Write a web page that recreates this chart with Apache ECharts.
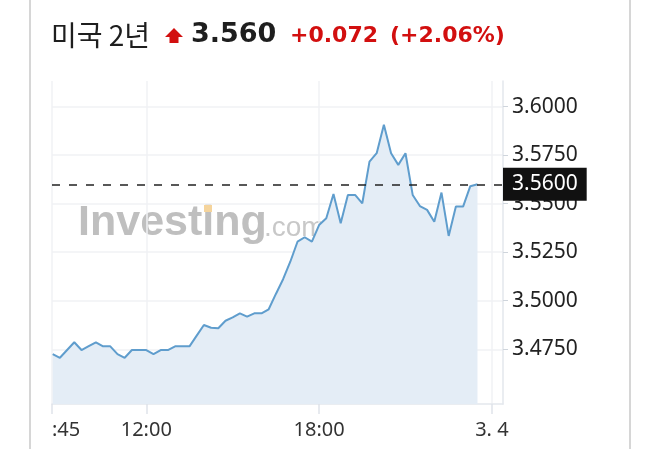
<!DOCTYPE html>
<html>
<head>
<meta charset="utf-8">
<script src="https://cdn.jsdelivr.net/npm/echarts@6/dist/echarts.min.js"></script>
<style>
    html, body { margin: 0; padding: 0; background: #fff; }
    #chart { width: 660px; height: 449px; }
</style>
</head>
<body>
<div id="chart"></div>
<script>
    // 미국 2년 국채 수익률, 15분 간격
    var times = [
        '08:45', '09:00', '09:15', '09:30', '09:45', '10:00', '10:15', '10:30', '10:45', '11:00',
        '11:15', '11:30', '11:45', '12:00', '12:15', '12:30', '12:45', '13:00', '13:15', '13:30',
        '13:45', '14:00', '14:15', '14:30', '14:45', '15:00', '15:15', '15:30', '15:45', '16:00',
        '16:15', '16:30', '16:45', '17:00', '17:15', '17:30', '17:45', '18:00', '18:15', '18:30',
        '18:45', '19:00', '19:15', '19:30', '19:45', '20:00', '20:15', '20:30', '20:45', '21:00',
        '21:15', '21:30', '21:45', '22:00', '22:15', '22:30', '22:45', '23:00', '23:15', '23:30'
    ]
    var yields = [
        3.4725, 3.4706, 3.4746, 3.4786, 3.4746, 3.4766, 3.4786, 3.4765, 3.4765, 3.4725,
        3.4706, 3.4746, 3.4746, 3.4746, 3.4725, 3.4746, 3.4746, 3.4765, 3.4765, 3.4765,
        3.4820, 3.4875, 3.4861, 3.4858, 3.4897, 3.4914, 3.4935, 3.4918, 3.4935, 3.4935,
        3.4956, 3.5035, 3.5111, 3.5201, 3.5304, 3.5327, 3.5304, 3.5390, 3.5425, 3.5550,
        3.5399, 3.5545, 3.5545, 3.5502, 3.5717, 3.5760, 3.5906, 3.5760, 3.5700, 3.5760,
        3.5545, 3.5488, 3.5468, 3.5407, 3.5557, 3.5334, 3.5485, 3.5485, 3.5590, 3.5600
    ]
    var yTicks = [3.475, 3.5, 3.525, 3.55, 3.575, 3.6]
    var xTickHours = [8.726, 12, 18, 24]
    var xTickLabels = [':45', '12:00', '18:00', '3. 4']
    var lastValue = 3.56

    var titleName = '미국 2년'
    var titlePrice = '3.560'
    var titleChange = '+0.072'
    var titlePct = '(+2.06%)'

    function toHours(t) {
        var p = t.split(':')
        return Number(p[0]) + Number(p[1]) / 60
    }

    var seriesData = times.map(function (t, i) {
        return [toHours(t), yields[i]]
    })

    var red = '#d20f0f'
    var myChart = echarts.init(document.getElementById('chart'))
    myChart.setOption({
        animation: false,
        grid: {
            left: 52,
            right: 157,
            top: 81,
            bottom: 45
        },
        xAxis: {
            type: 'value',
            min: 8.726,
            max: 24.386,
            axisLine: { show: true, lineStyle: { color: '#e3e7ed', width: 1.5 } },
            axisTick: {
                show: true,
                length: 10,
                customValues: xTickHours,
                lineStyle: { color: '#dfe4ea', width: 1.5 }
            },
            axisLabel: {
                customValues: xTickHours,
                alignMinLabel: 'left',
                margin: 16,
                fontSize: 20,
                fontFamily: 'Noto Sans',
                color: '#333',
                formatter: function (v) {
                    var idx = xTickHours.indexOf(v)
                    return idx >= 0 ? xTickLabels[idx] : ''
                }
            },
            splitLine: { show: true, lineStyle: { color: '#f1f2f4', width: 1.5 } }
        },
        yAxis: {
            type: 'value',
            position: 'right',
            min: 3.4468,
            max: 3.6132,
            axisLine: { show: true, lineStyle: { color: '#e3e7ed', width: 1.5 } },
            axisTick: {
                show: true,
                length: 5,
                customValues: yTicks,
                lineStyle: { color: '#cfd5dc' }
            },
            axisLabel: {
                customValues: yTicks,
                margin: 9,
                padding: [6, 0, 0, 0],
                fontSize: 21,
                fontFamily: 'Noto Sans',
                color: '#222',
                formatter: function (v) { return v.toFixed(4) }
            },
            splitLine: { show: true, lineStyle: { color: '#f1f2f4', width: 1.5 } }
        },
        graphic: [
            { type: 'line', shape: { x1: 30, y1: 0, x2: 30, y2: 449 }, style: { stroke: '#d6d6d6', lineWidth: 2 } },
            { type: 'line', shape: { x1: 630, y1: 0, x2: 630, y2: 449 }, style: { stroke: '#d6d6d6', lineWidth: 2 } },
            {
                type: 'text', x: 51, y: 35,
                style: { text: titleName, font: '28px "Noto Sans CJK KR"', fill: '#1e1e1e', verticalAlign: 'middle' }
            },
            {
                type: 'polygon',
                shape: { points: [[174, 28], [183, 37], [178.5, 37], [178.5, 43], [169.5, 43], [169.5, 37], [165, 37]] },
                style: { fill: red }
            },
            {
                type: 'text', x: 191, y: 35,
                style: { text: titlePrice, font: 'bold 27px "DejaVu Sans"', fill: '#1e1e1e', verticalAlign: 'middle' }
            },
            {
                type: 'text', x: 290, y: 36,
                style: { text: titleChange, font: 'bold 22px "DejaVu Sans"', fill: red, verticalAlign: 'middle' }
            },
            {
                type: 'text', x: 390, y: 36,
                style: { text: titlePct, font: 'bold 22px "DejaVu Sans"', fill: red, verticalAlign: 'middle' }
            },
            // 워터마크
            {
                type: 'text', x: 78, y: 223, z: 0,
                style: { text: 'Investing', font: 'bold 43px "Liberation Sans"', fill: '#bfbfbf', verticalAlign: 'middle' }
            },
            {
                type: 'rect', z: 0, shape: { x: 204, y: 205, width: 8, height: 7 },
                style: { fill: '#f5d49c' }
            },
            {
                type: 'text', x: 264, y: 228, z: 0,
                style: { text: '.com', font: '28px "Liberation Sans"', fill: '#c8c8c8', verticalAlign: 'middle' }
            }
        ],
        series: [{
            type: 'line',
            data: seriesData,
            showSymbol: false,
            z: 3,
            lineStyle: { color: '#5f9dcd', width: 2 },
            areaStyle: { color: '#e4edf6', opacity: 1 },
            markLine: {
                silent: true,
                symbol: 'none',
                lineStyle: { type: [8, 9], color: '#222', width: 1.5 },
                label: {
                    position: 'end',
                    distance: 0,
                    formatter: lastValue.toFixed(4),
                    backgroundColor: '#111',
                    color: '#fff',
                    fontSize: 21,
                    fontFamily: 'Noto Sans',
                    lineHeight: 25,
                    padding: [4, 9, 4, 9]
                },
                data: [{ yAxis: lastValue }]
            }
        }]
    })
</script>
</body>
</html>
